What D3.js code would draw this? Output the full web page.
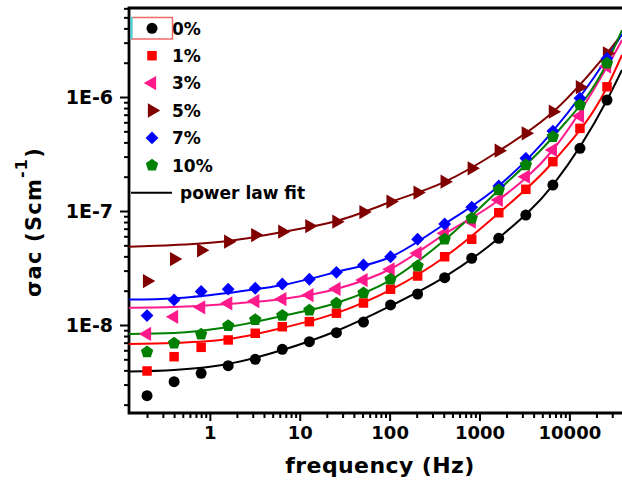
<!DOCTYPE html>
<html>
<head>
<meta charset="utf-8">
<script src="https://cdn.jsdelivr.net/npm/d3@7"></script>
<style>
	body { margin: 0; background: #fff; }
	svg { display: block; font-family: 'DejaVu Sans', sans-serif; font-weight: bold; }
</style>
</head>
<body>
<div id="graphic"></div>
<script>
// measured frequencies (Hz)
const freq = [0.2, 0.4, 0.8, 1.6, 3.2, 6.4, 12.8, 25.6, 51.2, 102.4, 204.8, 409.6, 819.2, 1638.4, 3276.8, 6553.6, 13107.2, 26214.4];

// sigma_ac (S/cm) per filler content
const s0 = [2.40e-9, 3.18e-9, 3.77e-9, 4.40e-9, 5.00e-9, 6.12e-9, 7.14e-9, 8.56e-9, 1.06e-8, 1.50e-8, 1.87e-8, 2.60e-8, 3.85e-8, 5.76e-8, 9.22e-8, 1.69e-7, 3.55e-7, 9.41e-7];
const s1 = [3.95e-9, 5.27e-9, 6.37e-9, 7.39e-9, 8.46e-9, 9.66e-9, 1.07e-8, 1.27e-8, 1.56e-8, 2.06e-8, 2.69e-8, 3.97e-8, 5.65e-8, 9.66e-8, 1.55e-7, 2.71e-7, 5.31e-7, 1.23e-6];
const s3 = [8.34e-9, 1.18e-8, 1.43e-8, 1.55e-8, 1.62e-8, 1.69e-8, 1.83e-8, 2.07e-8, 2.48e-8, 3.08e-8, 4.26e-8, 6.37e-8, 8.05e-8, 1.25e-7, 2.00e-7, 3.43e-7, 6.81e-7, 1.85e-6];
const s5 = [2.43e-8, 3.79e-8, 4.52e-8, 5.38e-8, 6.15e-8, 6.58e-8, 7.38e-8, 8.05e-8, 9.80e-8, 1.21e-7, 1.45e-7, 1.81e-7, 2.37e-7, 3.38e-7, 4.81e-7, 7.43e-7, 1.22e-6, 2.42e-6];
const s7 = [1.21e-8, 1.66e-8, 1.97e-8, 2.06e-8, 2.10e-8, 2.29e-8, 2.52e-8, 2.90e-8, 3.36e-8, 3.97e-8, 5.65e-8, 7.69e-8, 1.08e-7, 1.66e-7, 2.90e-7, 5.03e-7, 9.75e-7, 2.18e-6];
const s10 = [5.80e-9, 6.91e-9, 8.28e-9, 9.86e-9, 1.11e-8, 1.21e-8, 1.35e-8, 1.55e-8, 1.91e-8, 2.52e-8, 3.29e-8, 5.65e-8, 8.63e-8, 1.53e-7, 2.53e-7, 4.49e-7, 8.51e-7, 1.98e-6];

const fitFreq = [0.126, 0.4, 1.6, 6.4, 25.6, 102.4, 409.6, 1638.4, 6553.6, 26214.4, 38500];
const fit0 = [3.91e-9, 4.03e-9, 4.55e-9, 6.03e-9, 8.86e-9, 1.47e-8, 2.64e-8, 5.80e-8, 1.69e-7, 9.41e-7, 1.73e-6];
const fit1 = [6.81e-9, 6.95e-9, 7.54e-9, 9.42e-9, 1.27e-8, 2.03e-8, 3.95e-8, 9.60e-8, 2.69e-7, 1.22e-6, 2.34e-6];
const fit3 = [1.42e-8, 1.44e-8, 1.53e-8, 1.69e-8, 2.07e-8, 3.10e-8, 6.28e-8, 1.25e-7, 3.43e-7, 1.83e-6, 3.16e-6];
const fit5 = [4.86e-8, 5.03e-8, 5.46e-8, 6.55e-8, 8.17e-8, 1.20e-7, 1.80e-7, 3.36e-7, 7.38e-7, 2.43e-6, 3.57e-6];
const fit7 = [1.67e-8, 1.71e-8, 1.91e-8, 2.24e-8, 2.92e-8, 3.95e-8, 7.69e-8, 1.66e-7, 5.03e-7, 2.20e-6, 3.57e-6];
const fit10 = [8.34e-9, 8.51e-9, 9.60e-9, 1.20e-8, 1.56e-8, 2.48e-8, 5.57e-8, 1.53e-7, 4.46e-7, 1.99e-6, 3.87e-6];

const labels = ['0%', '1%', '3%', '5%', '7%', '10%'];
const xTicks = [1, 10, 100, 1000, 10000];
const yTicks = [1e-8, 1e-7, 1e-6];

const symbolPentagon = {
	draw(ctx, size) {
		const r = Math.sqrt(size / 2.378);
		for (let i = 0; i < 5; i++) {
			const a = -Math.PI / 2 + i * 2 * Math.PI / 5;
			if (i === 0) ctx.moveTo(r * Math.cos(a), r * Math.sin(a));
			else ctx.lineTo(r * Math.cos(a), r * Math.sin(a));
		}
		ctx.closePath();
	}
};

const series = [
	{ name: labels[0], vals: s0, fit: fit0, colour: '#000000', type: d3.symbolCircle, size: 95, rot: 0 },
	{ name: labels[1], vals: s1, fit: fit1, colour: '#ff0000', type: d3.symbolSquare, size: 90, rot: 0 },
	{ name: labels[2], vals: s3, fit: fit3, colour: '#ff1a8c', type: d3.symbolTriangle, size: 88, rot: -90 },
	{ name: labels[3], vals: s5, fit: fit5, colour: '#800000', type: d3.symbolTriangle, size: 88, rot: 90 },
	{ name: labels[4], vals: s7, fit: fit7, colour: '#0000ff', type: d3.symbolSquare, size: 82, rot: 45 },
	{ name: labels[5], vals: s10, fit: fit10, colour: '#008000', type: symbolPentagon, size: 100, rot: 0 }
];

const width = 622, height = 488;
const plot = { left: 129, right: 622, top: 8, bottom: 413 };

const svg = d3.select('#graphic')
	.append('svg')
	.attr('width', width)
	.attr('height', height);

const x = d3.scaleLog().domain([0.126, 38500]).range([plot.left, plot.right]);
const y = d3.scaleLog().domain([1.69e-9, 6.04e-6]).range([plot.bottom, plot.top]);

// minor tick values between the decades
const xMinor = [];
[0.1, 1, 10, 100, 1000, 10000].forEach(d => {
	for (let m = 2; m <= 9; m++) {
		const v = d * m;
		if (v > x.domain()[0] && v < x.domain()[1]) xMinor.push(v);
	}
});
const yMinor = [];
[1e-9, 1e-8, 1e-7, 1e-6].forEach(d => {
	for (let m = 2; m <= 9; m++) {
		const v = d * m;
		if (v > y.domain()[0] && v < y.domain()[1]) yMinor.push(v);
	}
});

svg.append('defs').append('clipPath').attr('id', 'clip')
	.append('rect')
	.attr('x', plot.left).attr('y', plot.top)
	.attr('width', plot.right - plot.left).attr('height', plot.bottom - plot.top);

// axes
const xAxisMinor = d3.axisBottom(x).tickValues(xMinor).tickSize(5).tickFormat('');
const xAxis = d3.axisBottom(x).tickValues(xTicks).tickSize(8).tickPadding(5).tickFormat(d3.format('d'));
const yAxisMinor = d3.axisLeft(y).tickValues(yMinor).tickSize(5).tickFormat('');
const yAxis = d3.axisLeft(y).tickValues(yTicks).tickSize(9).tickPadding(7)
	.tickFormat(d => '1E' + Math.round(Math.log10(d)));

[xAxisMinor, xAxis].forEach(a => {
	svg.append('g')
		.attr('class', 'x axis')
		.attr('transform', 'translate(0,' + plot.bottom + ')')
		.call(a)
		.call(g => g.select('.domain').remove());
});
[yAxisMinor, yAxis].forEach(a => {
	svg.append('g')
		.attr('class', 'y axis')
		.attr('transform', 'translate(' + plot.left + ',0)')
		.call(a)
		.call(g => g.select('.domain').remove());
});

svg.selectAll('.axis line').attr('stroke', '#000').attr('stroke-width', 2);
svg.selectAll('.x.axis text').attr('font-size', 18).attr('font-family', 'DejaVu Sans').attr('font-weight', 'bold').attr('fill', '#000');
svg.selectAll('.y.axis text').attr('font-size', 19).attr('font-family', 'DejaVu Sans').attr('font-weight', 'bold').attr('fill', '#000');

// frame
svg.append('path')
	.attr('d', 'M' + plot.right + ',' + plot.top + 'H' + plot.left + 'V' + plot.bottom + 'H' + plot.right)
	.attr('fill', 'none')
	.attr('stroke', '#000')
	.attr('stroke-width', 2.8);

// fit lines
const line = d3.line()
	.x((d, i) => x(fitFreq[i]))
	.y(d => y(d))
	.curve(d3.curveMonotoneX);

const lines = svg.append('g').attr('clip-path', 'url(#clip)');
series.forEach(s => {
	lines.append('path')
		.datum(s.fit)
		.attr('d', line)
		.attr('fill', 'none')
		.attr('stroke', s.colour)
		.attr('stroke-width', 2);
});

// markers
series.forEach(s => {
	svg.append('g')
		.selectAll('path')
		.data(s.vals)
		.join('path')
		.attr('d', d3.symbol().type(s.type).size(s.size))
		.attr('transform', (d, i) => 'translate(' + x(freq[i]) + ',' + y(d) + ') rotate(' + s.rot + ')')
		.attr('fill', s.colour);
});

// legend
const legend = svg.append('g').attr('class', 'legend');
const rowY = i => 28.3 + i * 27.4;
series.forEach((s, i) => {
	legend.append('path')
		.attr('d', d3.symbol().type(s.type).size(s.size))
		.attr('transform', 'translate(152,' + rowY(i) + ') rotate(' + s.rot + ')')
		.attr('fill', s.colour);
	legend.append('text')
		.attr('x', 172)
		.attr('y', rowY(i))
		.attr('dy', '0.37em')
		.attr('font-size', 17)
		.text(s.name);
});
legend.append('line')
	.attr('x1', 131).attr('x2', 172)
	.attr('y1', rowY(6)).attr('y2', rowY(6))
	.attr('stroke', '#000').attr('stroke-width', 2);
legend.append('text')
	.attr('x', 180)
	.attr('y', rowY(6))
	.attr('dy', '0.37em')
	.attr('font-size', 17)
	.text('power law fit');

// selection box left over round the first legend entry
legend.append('rect')
	.attr('x', 131.5).attr('y', 17.5)
	.attr('width', 41).attr('height', 21.5)
	.attr('fill', 'none')
	.attr('stroke', '#f06a6a')
	.attr('stroke-width', 1.5);
legend.append('line')
	.attr('x1', 131.5).attr('x2', 131.5)
	.attr('y1', 17).attr('y2', 39)
	.attr('stroke', '#35d6e0')
	.attr('stroke-width', 2);

// axis titles
svg.append('text')
	.attr('x', 380)
	.attr('y', 473)
	.attr('text-anchor', 'middle')
	.attr('font-size', 22)
	.attr('letter-spacing', 0.4)
	.text('frequency (Hz)');

const yTitle = svg.append('text')
	.attr('transform', 'translate(41,222) rotate(-90)')
	.attr('text-anchor', 'middle')
	.attr('font-size', 21)
	.attr('letter-spacing', 1.2);
yTitle.append('tspan').text('σac (Scm');
yTitle.append('tspan').attr('dy', -14).attr('font-size', 16).text('-1');
yTitle.append('tspan').attr('dy', 14).text(')');
</script>
</body>
</html>
